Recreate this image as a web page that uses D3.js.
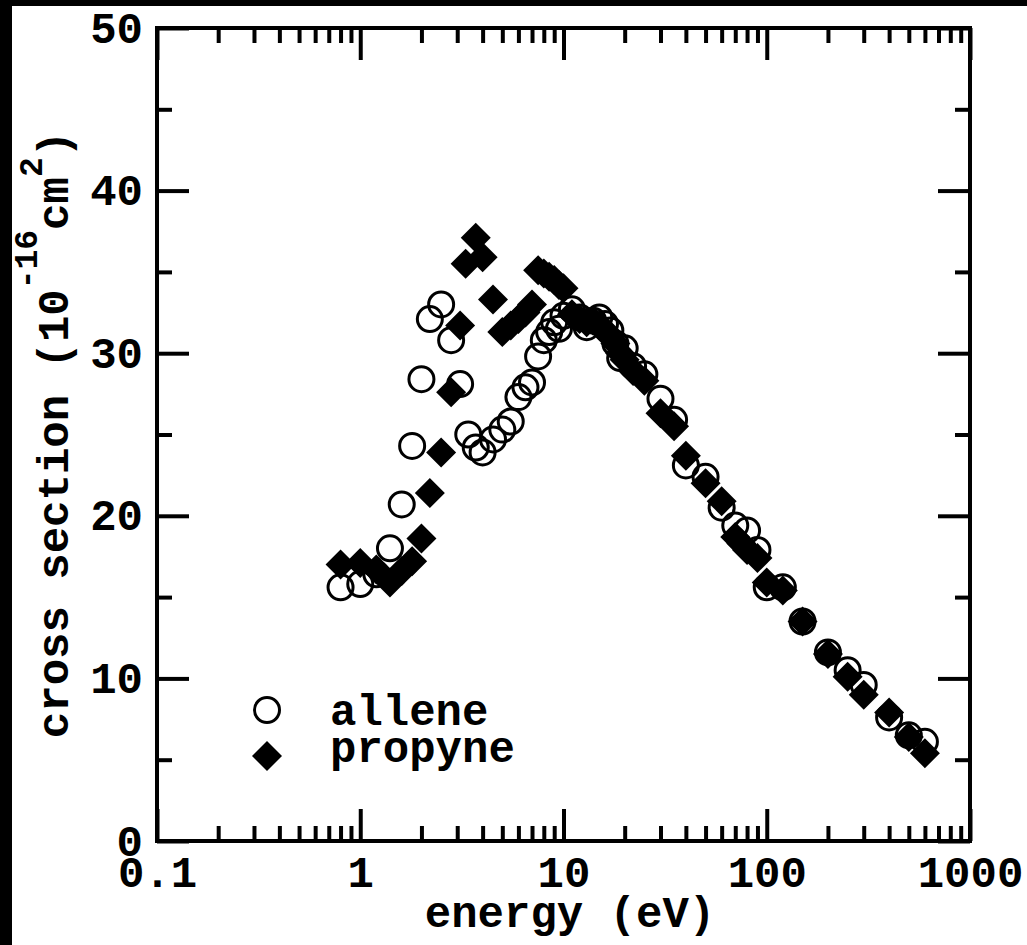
<!DOCTYPE html>
<html>
<head>
<meta charset="utf-8">
<script src="https://cdn.jsdelivr.net/npm/d3@7"></script>
<style>
  body { margin: 0; background: #fff; }
  text { font-family: "Liberation Mono", "Courier New", monospace; font-weight: bold; }
</style>
</head>
<body>
<svg id="chart"></svg>
<script>
// cross section data (energy in eV, cross section in 1e-16 cm^2)
const alleneEnergy = [0.8, 1.0, 1.2, 1.4, 1.6, 1.8, 2.0, 2.2, 2.5, 2.8,
  3.1, 3.4, 3.7, 4.0, 4.5, 5.0, 5.5, 6.0, 6.5, 7.0,
  7.5, 8.0, 8.5, 9.0, 9.5, 10, 11, 12, 13, 14,
  15, 16, 17, 18, 19, 20, 22, 25, 30, 35,
  40, 50, 60, 70, 80, 90, 100, 120, 150, 200,
  250, 300, 400, 500, 600];
const alleneCS = [15.6, 15.8, 16.4, 18.0, 20.7, 24.3, 28.4, 32.1, 33.0, 30.8,
  28.1, 25.0, 24.2, 23.9, 24.7, 25.3, 25.8, 27.3, 27.9, 28.2,
  29.8, 30.8, 31.3, 31.9, 31.5, 32.3, 32.7, 32.2, 31.6, 32.0,
  32.2, 31.8, 31.4, 30.6, 29.7, 30.3, 29.2, 28.7, 27.2, 25.9,
  23.1, 22.4, 20.5, 19.4, 19.1, 17.9, 15.6, 15.6, 13.5, 11.6,
  10.5, 9.6, 7.6, 6.5, 6.1];

const propyneEnergy = [0.8, 1.0, 1.2, 1.4, 1.6, 1.8, 2.0, 2.2, 2.5, 2.8,
  3.1, 3.3, 3.7, 4.0, 4.5, 5.0, 5.5, 6.0, 6.5, 7.0,
  7.5, 8.0, 8.5, 9.0, 9.5, 10, 11, 12, 13, 14,
  15, 16, 17, 18, 19, 20, 22, 25, 30, 35,
  40, 50, 60, 70, 75, 80, 90, 100, 120, 150,
  200, 250, 300, 400, 500, 600];
const propyneCS = [17.0, 17.1, 16.7, 15.9, 16.6, 17.2, 18.6, 21.4, 23.9, 27.6,
  31.7, 35.5, 37.1, 35.9, 33.3, 31.3, 31.7, 32.1, 32.5, 33.0,
  35.1, 34.9, 34.7, 34.5, 34.2, 34.0, 32.4, 32.1, 31.9, 32.0,
  31.7, 31.4, 31.0, 30.6, 30.0, 29.6, 28.9, 28.3, 26.3, 25.5,
  23.7, 22.0, 20.9, 18.7, 18.3, 17.9, 17.4, 15.9, 15.4, 13.5,
  11.5, 10.1, 9.0, 7.9, 6.4, 5.4];

const xMajor = [0.1, 1, 10, 100, 1000];
const xMinor = [0.1, 1, 10, 100].flatMap((d) => [2, 3, 4, 5, 6, 7, 8, 9].map((k) => k * d));
const yMajor = [0, 10, 20, 30, 40, 50];
const yMinor = [5, 15, 25, 35, 45];
const legendLabels = ["allene", "propyne"];

const width = 1027;
const height = 945;
const margin = { top: 28, right: 57, bottom: 104, left: 157 };
const fontSize = 44;

const x = d3.scaleLog().domain([0.1, 1000]).range([margin.left, width - margin.right]);
const y = d3.scaleLinear().domain([0, 50]).range([height - margin.bottom, margin.top]);

const svg = d3.select("#chart").attr("width", width).attr("height", height);

// black frame strips on the left and top of the picture
svg.append("rect").attr("x", 0).attr("y", 0).attr("width", 12).attr("height", height).attr("fill", "#000");
svg.append("rect").attr("x", 0).attr("y", 0).attr("width", width).attr("height", 6).attr("fill", "#000");

const styleAxis = (g) => {
  g.select(".domain").remove();
  g.selectAll(".tick line").attr("stroke", "#000").attr("stroke-width", 4);
  g.attr("font-family", null).attr("font-size", fontSize);
  g.selectAll(".tick text").attr("fill", "#000");
};

const majorLen = 32;
const minorLen = 15;
const fmtX = (d) => (d < 1 ? "0.1" : String(d));

svg.append("g")
  .attr("transform", `translate(0,${y(0)})`)
  .call(d3.axisBottom(x).tickValues(xMajor).tickSize(-majorLen).tickPadding(15).tickFormat(fmtX))
  .call(styleAxis);
svg.append("g")
  .attr("transform", `translate(0,${y(0)})`)
  .call(d3.axisBottom(x).tickValues(xMinor).tickSize(-minorLen).tickFormat(""))
  .call(styleAxis);
svg.append("g")
  .attr("transform", `translate(0,${y(50)})`)
  .call(d3.axisTop(x).tickValues(xMajor).tickSize(-majorLen).tickFormat(""))
  .call(styleAxis);
svg.append("g")
  .attr("transform", `translate(0,${y(50)})`)
  .call(d3.axisTop(x).tickValues(xMinor).tickSize(-minorLen).tickFormat(""))
  .call(styleAxis);

svg.append("g")
  .attr("transform", `translate(${x(0.1)},0)`)
  .call(d3.axisLeft(y).tickValues(yMajor).tickSize(-majorLen).tickPadding(14))
  .call(styleAxis);
svg.append("g")
  .attr("transform", `translate(${x(0.1)},0)`)
  .call(d3.axisLeft(y).tickValues(yMinor).tickSize(-minorLen).tickFormat(""))
  .call(styleAxis);
svg.append("g")
  .attr("transform", `translate(${x(1000)},0)`)
  .call(d3.axisRight(y).tickValues(yMajor).tickSize(-majorLen).tickFormat(""))
  .call(styleAxis);
svg.append("g")
  .attr("transform", `translate(${x(1000)},0)`)
  .call(d3.axisRight(y).tickValues(yMinor).tickSize(-minorLen).tickFormat(""))
  .call(styleAxis);

// plot frame
svg.append("rect")
  .attr("x", x(0.1)).attr("y", y(50))
  .attr("width", x(1000) - x(0.1)).attr("height", y(0) - y(50))
  .attr("fill", "none").attr("stroke", "#000").attr("stroke-width", 4);

// axis titles
svg.append("text")
  .attr("x", 570).attr("y", 927)
  .attr("text-anchor", "middle")
  .attr("font-size", fontSize)
  .text("energy (eV)");

const yTitle = svg.append("text")
  .attr("transform", `translate(68,${(y(0) + y(50)) / 2}) rotate(-90)`)
  .attr("text-anchor", "middle")
  .attr("font-size", fontSize);
yTitle.append("tspan").text("cross section (10");
yTitle.append("tspan").attr("dy", -31).attr("font-size", 33).text("-16");
yTitle.append("tspan").attr("dy", 31).text("cm");
yTitle.append("tspan").attr("dy", -26).attr("font-size", 33).text("2");
yTitle.append("tspan").attr("dy", 26).text(")");

// markers
const circleSym = d3.symbol(d3.symbolCircle, Math.PI * 12.5 * 12.5);
const diamondSym = d3.symbol(d3.symbolSquare, 450);

const allene = alleneEnergy.map((e, i) => ({ e, cs: alleneCS[i] }));
const propyne = propyneEnergy.map((e, i) => ({ e, cs: propyneCS[i] }));

svg.append("g")
  .selectAll("path")
  .data(allene)
  .join("path")
  .attr("d", circleSym)
  .attr("transform", (d) => `translate(${x(d.e)},${y(d.cs)})`)
  .attr("fill", "none")
  .attr("stroke", "#000")
  .attr("stroke-width", 3);

svg.append("g")
  .selectAll("path")
  .data(propyne)
  .join("path")
  .attr("d", diamondSym)
  .attr("transform", (d) => `translate(${x(d.e)},${y(d.cs)}) rotate(45)`)
  .attr("fill", "#000");

// legend
const legend = svg.append("g").attr("transform", "translate(267,710)");
legend.append("path").attr("d", circleSym)
  .attr("fill", "none").attr("stroke", "#000").attr("stroke-width", 3);
legend.append("path").attr("d", diamondSym)
  .attr("transform", "translate(0,46) rotate(45)").attr("fill", "#000");
legend.selectAll("text")
  .data(legendLabels)
  .join("text")
  .attr("x", 63)
  .attr("y", (d, i) => 15 + i * 37)
  .attr("font-size", fontSize)
  .text((d) => d);
</script>
</body>
</html>
